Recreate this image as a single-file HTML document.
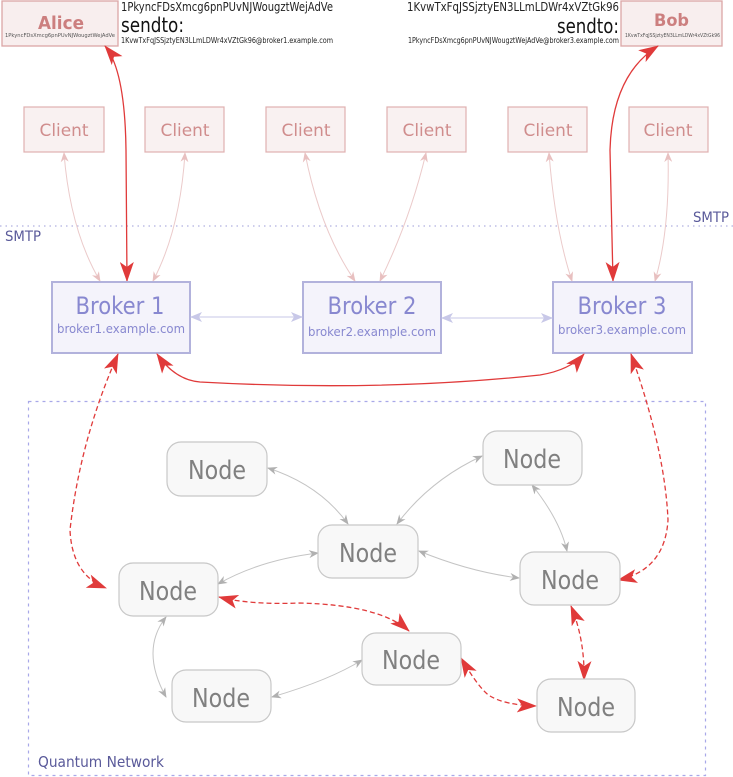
<!DOCTYPE html>
<html><head><meta charset="utf-8"><style>
html,body{margin:0;padding:0;background:#fff;width:733px;height:777px;overflow:hidden}
text{font-family:"DejaVu Sans","Liberation Sans",sans-serif}
</style></head><body>
<svg width="733" height="777" viewBox="0 0 733 777" xmlns="http://www.w3.org/2000/svg">
<defs>
<marker id="r" viewBox="0 0 20 14" refX="19" refY="7" markerWidth="20" markerHeight="14" markerUnits="userSpaceOnUse" orient="auto-start-reverse"><path d="M0,0 L20,7 L0,14 L5,7 Z" fill="#e03a3a"/></marker>
<marker id="g" viewBox="0 0 10 8" refX="9" refY="4" markerWidth="10" markerHeight="8" markerUnits="userSpaceOnUse" orient="auto-start-reverse"><path d="M0,0 L10,4 L0,8 L3,4 Z" fill="#b0b0b0"/></marker>
<marker id="p" viewBox="0 0 10 8" refX="9" refY="4" markerWidth="10" markerHeight="8" markerUnits="userSpaceOnUse" orient="auto-start-reverse"><path d="M0,0 L10,4 L0,8 L3,4 Z" fill="#e8c0c0"/></marker>
<marker id="b" viewBox="0 0 12 10" refX="11" refY="5" markerWidth="12" markerHeight="10" markerUnits="userSpaceOnUse" orient="auto-start-reverse"><path d="M0,0 L12,5 L0,10 L3,5 Z" fill="#c8c8e8"/></marker>
</defs>

<rect x="2" y="1" width="116" height="45" fill="#f8eeee" stroke="#dba6a6" stroke-width="1.3"/>
<text x="38" y="29" font-size="18" font-weight="bold" fill="#cc7f7f" textLength="46" lengthAdjust="spacingAndGlyphs">Alice</text>
<text x="5" y="37" font-size="5.5" fill="#555" textLength="110" lengthAdjust="spacingAndGlyphs">1PkyncFDsXmcg6pnPUvNJWougztWejAdVe</text>
<text x="121" y="11" font-size="12.5" fill="#222" textLength="212" lengthAdjust="spacingAndGlyphs">1PkyncFDsXmcg6pnPUvNJWougztWejAdVe</text>
<text x="121" y="32" font-size="20" fill="#111" textLength="63" lengthAdjust="spacingAndGlyphs">sendto:</text>
<text x="121" y="43" font-size="7.5" fill="#222" textLength="212" lengthAdjust="spacingAndGlyphs">1KvwTxFqJSSjztyEN3LLmLDWr4xVZtGk96@broker1.example.com</text>

<rect x="621" y="1" width="101" height="45" fill="#f8eeee" stroke="#dba6a6" stroke-width="1.3"/>
<text x="654" y="26" font-size="17" font-weight="bold" fill="#cc7f7f" textLength="35" lengthAdjust="spacingAndGlyphs">Bob</text>
<text x="625" y="37" font-size="5" fill="#555" textLength="95" lengthAdjust="spacingAndGlyphs">1KvwTxFqJSSjztyEN3LLmLDWr4xVZtGk96</text>
<text x="407" y="11" font-size="12.5" fill="#222" textLength="212" lengthAdjust="spacingAndGlyphs">1KvwTxFqJSSjztyEN3LLmLDWr4xVZtGk96</text>
<text x="557" y="33" font-size="20" fill="#111" textLength="62" lengthAdjust="spacingAndGlyphs">sendto:</text>
<text x="408" y="43" font-size="7.5" fill="#222" textLength="211" lengthAdjust="spacingAndGlyphs">1PkyncFDsXmcg6pnPUvNJWougztWejAdVe@broker3.example.com</text>

<g fill="#f9f1f1" stroke="#e0b0b0" stroke-width="1.2">
<rect x="24" y="107" width="80" height="45"/><rect x="145" y="107" width="79" height="45"/>
<rect x="266" y="107" width="79" height="45"/><rect x="387" y="107" width="79" height="45"/>
<rect x="508" y="107" width="79" height="45"/><rect x="629" y="107" width="79" height="45"/>
</g>
<g font-size="17" fill="#d08d8d" text-anchor="middle">
<text x="64" y="136" textLength="49" lengthAdjust="spacingAndGlyphs">Client</text>
<text x="185" y="136" textLength="49" lengthAdjust="spacingAndGlyphs">Client</text>
<text x="306" y="136" textLength="49" lengthAdjust="spacingAndGlyphs">Client</text>
<text x="427" y="136" textLength="49" lengthAdjust="spacingAndGlyphs">Client</text>
<text x="548" y="136" textLength="49" lengthAdjust="spacingAndGlyphs">Client</text>
<text x="668" y="136" textLength="49" lengthAdjust="spacingAndGlyphs">Client</text>
</g>

<line x1="0" y1="226" x2="733" y2="226" stroke="#b0b0e0" stroke-width="1.3" stroke-dasharray="1.5,4"/>
<text x="5" y="241" font-size="14" fill="#5a5a9a" textLength="36" lengthAdjust="spacingAndGlyphs">SMTP</text>
<text x="693" y="222" font-size="14" fill="#5a5a9a" textLength="36" lengthAdjust="spacingAndGlyphs">SMTP</text>

<g fill="none" stroke="#ebcaca" stroke-width="1" marker-start="url(#p)" marker-end="url(#p)">
<path d="M64,153 Q70,230 100,281"/>
<path d="M185,153 Q180,230 153,281"/>
<path d="M305,153 Q320,230 355,281"/>
<path d="M426,153 Q410,220 380,281"/>
<path d="M549,153 Q555,230 572,281"/>
<path d="M668,153 Q670,230 655,281"/>
</g>

<g fill="none" stroke="#e03a3a" stroke-width="1.3">
<path d="M105,46 Q125,70 126,150 L127,281" marker-start="url(#r)" marker-end="url(#r)"/>
<path d="M658,46 Q612,75 610,150 L613,281" marker-start="url(#r)" marker-end="url(#r)"/>
</g>

<g fill="#f4f3fb" stroke="#b2b2dc" stroke-width="2">
<rect x="52" y="282" width="138" height="71"/>
<rect x="303" y="282" width="138" height="71"/>
<rect x="553" y="282" width="139" height="71"/>
</g>
<g fill="#8888d0" text-anchor="middle">
<text x="120" y="314" font-size="24" textLength="89" lengthAdjust="spacingAndGlyphs">Broker 1</text>
<text x="121" y="333" font-size="12.5" textLength="128" lengthAdjust="spacingAndGlyphs">broker1.example.com</text>
<text x="372" y="314" font-size="24" textLength="89" lengthAdjust="spacingAndGlyphs">Broker 2</text>
<text x="372" y="336" font-size="12.5" textLength="128" lengthAdjust="spacingAndGlyphs">broker2.example.com</text>
<text x="622" y="314" font-size="24" textLength="89" lengthAdjust="spacingAndGlyphs">Broker 3</text>
<text x="622" y="334" font-size="12.5" textLength="128" lengthAdjust="spacingAndGlyphs">broker3.example.com</text>
</g>
<g stroke="#d2d2ec" stroke-width="1.3" fill="none">
<line x1="191" y1="317" x2="302" y2="317" marker-start="url(#b)" marker-end="url(#b)"/>
<line x1="442" y1="318" x2="552" y2="318" marker-start="url(#b)" marker-end="url(#b)"/>
</g>

<path d="M157,354 Q175,380 200,382 Q380,392 540,375 Q570,370 584,354" fill="none" stroke="#e03a3a" stroke-width="1.3" marker-start="url(#r)" marker-end="url(#r)"/>

<rect x="28.5" y="401.5" width="677" height="374" fill="none" stroke="#a8a8e8" stroke-width="1.2" stroke-dasharray="3,4"/>
<text x="38" y="767" font-size="15" fill="#5a5a9a" textLength="126" lengthAdjust="spacingAndGlyphs">Quantum Network</text>

<g fill="none" stroke="#e03a3a" stroke-width="1.3" stroke-dasharray="5,3">
<path d="M118,354 Q80,440 70,530 Q72,575 106,588" marker-start="url(#r)" marker-end="url(#r)"/>
<path d="M631,354 Q665,450 668,520 Q665,570 618,580" marker-start="url(#r)" marker-end="url(#r)"/>
<path d="M219,597 Q250,605 300,603 Q380,605 409,631" marker-start="url(#r)" marker-end="url(#r)"/>
<path d="M461,658 Q480,690 490,696 Q505,705 536,706" marker-start="url(#r)" marker-end="url(#r)"/>
<path d="M571,606 Q585,640 584,680" marker-start="url(#r)" marker-end="url(#r)"/>
</g>

<g fill="none" stroke="#c4c4c4" stroke-width="1" marker-start="url(#g)" marker-end="url(#g)">
<path d="M268,468 Q320,485 348,524"/>
<path d="M482,456 Q430,480 397,524"/>
<path d="M318,553 Q260,560 218,584"/>
<path d="M419,551 Q470,572 519,578"/>
<path d="M532,485 Q560,520 567,551"/>
<path d="M166,617 Q140,650 166,697"/>
<path d="M272,697 Q330,680 362,660"/>
</g>

<g fill="#f8f8f8" stroke="#c8c8c8" stroke-width="1.2">
<rect x="167" y="442" width="100" height="54" rx="14"/>
<rect x="483" y="431" width="99" height="54" rx="14"/>
<rect x="318" y="525" width="100" height="53" rx="14"/>
<rect x="119" y="563" width="99" height="53" rx="14"/>
<rect x="520" y="552" width="100" height="53" rx="14"/>
<rect x="362" y="633" width="99" height="52" rx="14"/>
<rect x="172" y="670" width="99" height="52" rx="14"/>
<rect x="537" y="679" width="98" height="53" rx="14"/>
</g>
<g font-size="26" fill="#808080" text-anchor="middle">
<text x="217" y="479" textLength="58" lengthAdjust="spacingAndGlyphs">Node</text>
<text x="532" y="468" textLength="58" lengthAdjust="spacingAndGlyphs">Node</text>
<text x="368" y="562" textLength="58" lengthAdjust="spacingAndGlyphs">Node</text>
<text x="168" y="600" textLength="58" lengthAdjust="spacingAndGlyphs">Node</text>
<text x="570" y="589" textLength="58" lengthAdjust="spacingAndGlyphs">Node</text>
<text x="411" y="669" textLength="58" lengthAdjust="spacingAndGlyphs">Node</text>
<text x="221" y="707" textLength="58" lengthAdjust="spacingAndGlyphs">Node</text>
<text x="586" y="716" textLength="58" lengthAdjust="spacingAndGlyphs">Node</text>
</g>
</svg>
</body></html>
